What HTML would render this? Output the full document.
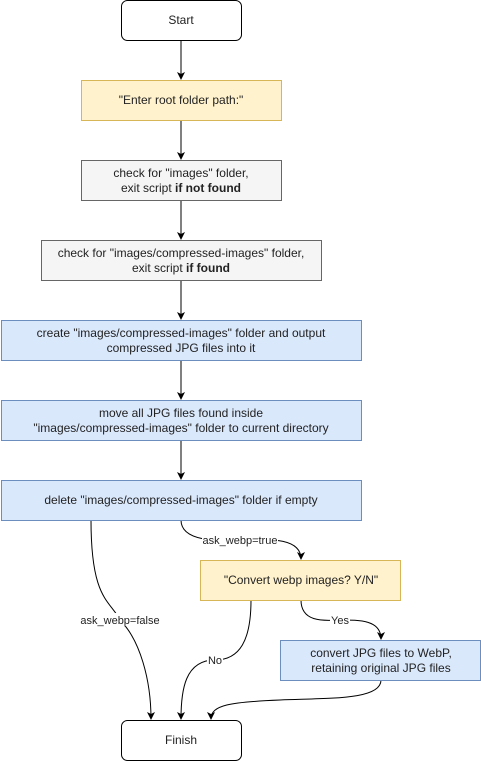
<!DOCTYPE html>
<html><head><meta charset="utf-8"><style>
html,body{margin:0;padding:0;background:#fff;}
svg{display:block;}
text{font-family:"Liberation Sans",Arial,sans-serif;font-size:12px;fill:#222;}
</style></head><body>
<svg width="481" height="761" viewBox="0 0 481 761" xmlns="http://www.w3.org/2000/svg">
<defs><marker id="a" markerWidth="8" markerHeight="8" refX="7" refY="4" orient="auto" markerUnits="userSpaceOnUse"><path d="M0,0 L8,4 L0,8 L2,4 Z" fill="#000"/></marker></defs>
<g fill="none" stroke="#000" stroke-width="1">
<path d="M181,40 V79" marker-end="url(#a)"/>
<path d="M181,120 V159" marker-end="url(#a)"/>
<path d="M181,200 V239" marker-end="url(#a)"/>
<path d="M181,280 V319" marker-end="url(#a)"/>
<path d="M181,360 V399" marker-end="url(#a)"/>
<path d="M181,440 V479" marker-end="url(#a)"/>
<path d="M91,520 C91,600 110,600 120,620 C140,640 151,680 151,719" marker-end="url(#a)"/>
<path d="M181,520 C181,545 230,540 240,540 C260,540 301,535 301,559" marker-end="url(#a)"/>
<path d="M251,600 C251,640 240,660 215,660 C185,660 181,690 181,719" marker-end="url(#a)"/>
<path d="M301,600 C301,625 330,620 340,620 C360,620 381,620 381,639" marker-end="url(#a)"/>
<path d="M381,680 C381,700 330,698 280,700 C230,702 211,705 211,719" marker-end="url(#a)"/>
</g>
<rect x="121.5" y="0.5" width="120" height="40" rx="6" fill="#fff" stroke="#000"/>
<rect x="81.5" y="80.5" width="200" height="40" fill="#fff2cc" stroke="#d6b656"/>
<rect x="81.5" y="160.5" width="200" height="40" fill="#f5f5f5" stroke="#666"/>
<rect x="41.5" y="240.5" width="280" height="40" fill="#f5f5f5" stroke="#666"/>
<rect x="1.5" y="320.5" width="360" height="40" fill="#dae8fc" stroke="#6c8ebf"/>
<rect x="1.5" y="400.5" width="360" height="40" fill="#dae8fc" stroke="#6c8ebf"/>
<rect x="1.5" y="480.5" width="360" height="40" fill="#dae8fc" stroke="#6c8ebf"/>
<rect x="200.5" y="560.5" width="200" height="40" fill="#fff2cc" stroke="#d6b656"/>
<rect x="280.5" y="640.5" width="200" height="40" fill="#dae8fc" stroke="#6c8ebf"/>
<rect x="121.5" y="720.5" width="120" height="40" rx="6" fill="#fff" stroke="#000"/>
<g text-anchor="middle">
<text x="181" y="24">Start</text>
<text x="181" y="104">"Enter root folder path:"</text>
<text x="181" y="177">check for "images" folder,</text>
<text x="181" y="192">exit script <tspan font-weight="bold">if not found</tspan></text>
<text x="181" y="257">check for "images/compressed-images" folder,</text>
<text x="181" y="272">exit script <tspan font-weight="bold">if found</tspan></text>
<text x="181" y="337">create "images/compressed-images" folder and output</text>
<text x="181" y="352">compressed JPG files into it</text>
<text x="181" y="417">move all JPG files found inside</text>
<text x="181" y="432">"images/compressed-images" folder to current directory</text>
<text x="181" y="504">delete "images/compressed-images" folder if empty</text>
<text x="301" y="584">"Convert webp images? Y/N"</text>
<text x="381" y="657">convert JPG files to WebP,</text>
<text x="381" y="672">retaining original JPG files</text>
<text x="181" y="744">Finish</text>
</g>
<g text-anchor="middle" style="font-size:11px">
<rect x="202" y="533" width="76" height="13" fill="#fff"/>
<text x="240" y="544" style="font-size:11px">ask_webp=true</text>
<rect x="80" y="613" width="80" height="13" fill="#fff"/>
<text x="120" y="624" style="font-size:11px">ask_webp=false</text>
<rect x="207" y="653" width="16" height="13" fill="#fff"/>
<text x="215" y="664" style="font-size:11px">No</text>
<rect x="330" y="613" width="20" height="13" fill="#fff"/>
<text x="340" y="624" style="font-size:11px">Yes</text>
</g>
</svg>
</body></html>
